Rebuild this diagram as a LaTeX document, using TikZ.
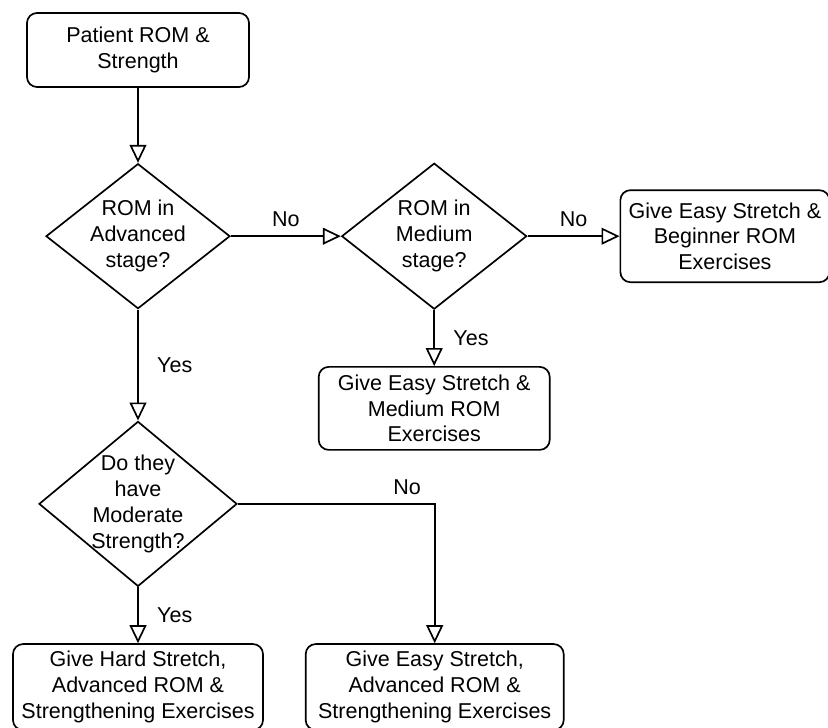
\documentclass[tikz,border=0pt]{standalone}
\usepackage{fontspec}
\setmainfont{Liberation Sans}
\usepackage{tikz}
\usetikzlibrary{arrows.meta,positioning,shapes.geometric}
\definecolor{romline}{HTML}{000000}
\newcommand\romfont{\fontsize{15.3}{18.4}\selectfont}
\tikzset{%
  rombox/.style={%
    draw=romline,
    fill=white,
    line width=1.2pt,
    rounded corners=2.5mm,
    inner sep=0pt,
    align=center,
    font=\romfont
  },
  romdecision/.style={%
    diamond,
    draw=romline,
    fill=white,
    line width=1.2pt,
    inner sep=0pt
  },
  romdtext/.style={%
    inner sep=0pt,
    align=center,
    font=\romfont
  },
  romlabel/.style={inner sep=0pt,font=\romfont},
  romarrow/.style={-{Triangle[open,length=4.5mm,width=4.2mm]},line width=1.2pt,draw=romline}
}

\begin{document}
\begin{tikzpicture}[x=0.25mm,y=-0.25mm,node distance=14mm and 23mm]
    \useasboundingbox (0,0) rectangle (828,727);

    \node[rombox,minimum width=55.5mm,minimum height=18.5mm] (start) at (138,50) {Patient ROM \&\\Strength};
    \node[romdecision,minimum width=46mm,minimum height=36.25mm,below=18.75mm of start,
      label={[romdtext]center:{ROM in\\Advanced\\stage?}}] (advq) {};
    \node[romdecision,minimum width=46.25mm,minimum height=36.5mm,right=27.5mm of advq,
      label={[romdtext]center:{ROM in\\Medium\\stage?}}] (medq) {};
    \node[rombox,minimum width=52.25mm,minimum height=23mm,right=of medq] (beginner) {Give Easy Stretch \&\\Beginner ROM\\Exercises};
    \node[rombox,minimum width=57.75mm,minimum height=20.75mm,below=of medq] (medium) {Give Easy Stretch \&\\Medium ROM\\Exercises};
    \node[romdecision,minimum width=49.5mm,minimum height=41.25mm,below=27.75mm of advq,
      label={[romdtext]center:{Do they\\have\\Moderate\\Strength?}}] (strq) {};
    \node[rombox,minimum width=62.5mm,minimum height=21.5mm,below=of strq] (hard) {Give Hard Stretch,\\Advanced ROM \&\\Strengthening Exercises};
    \node[rombox,minimum width=64.5mm,minimum height=21.5mm,right=10.25mm of hard] (easyadv) {Give Easy Stretch,\\Advanced ROM \&\\Strengthening Exercises};

    \draw[romarrow] (start) -- (advq);
    \draw[romarrow] (advq) -- node[romlabel,above=2.2mm] {No} (medq);
    \draw[romarrow] (medq) -- node[romlabel,above=2.2mm] {No} (beginner);
    \draw[romarrow] (medq) -- node[romlabel,right=4.6mm] {Yes} (medium);
    \draw[romarrow] (advq) -- node[romlabel,right=4.6mm] {Yes} (strq);
    \draw[romarrow] (strq) -- node[romlabel,right=4.6mm] {Yes} (hard);
    \draw[romarrow] (strq.east) -| node[romlabel,pos=0.43,above=2.2mm] {No} (easyadv.north);
  \end{tikzpicture}
\end{document}
